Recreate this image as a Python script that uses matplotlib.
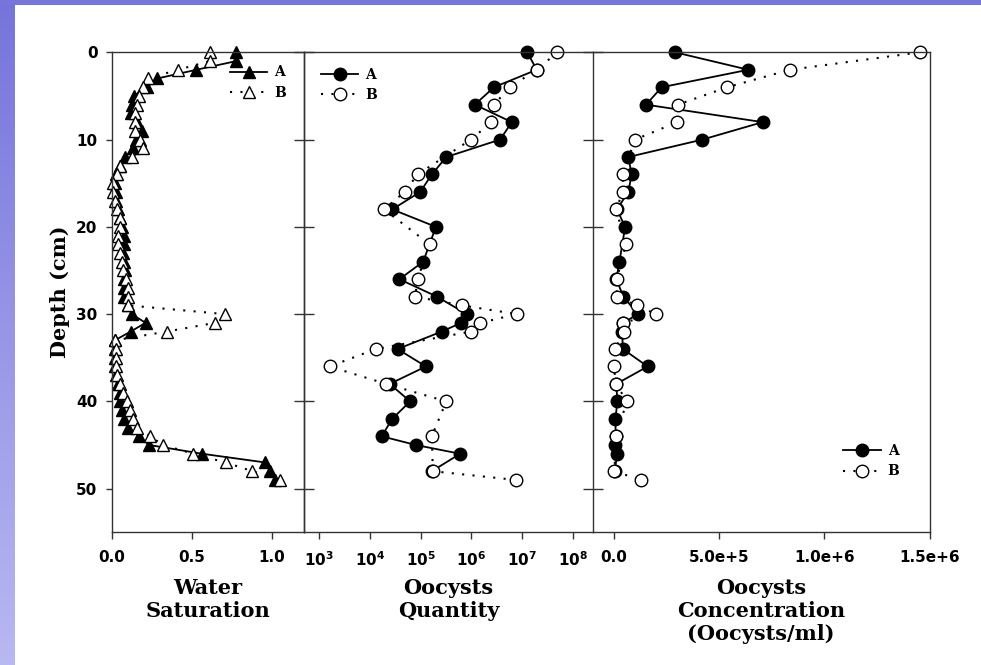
import numpy as np
import matplotlib.pyplot as plt
from matplotlib.patches import Rectangle

# water saturation, sampled every cm
sat_depth = list(range(50))
sat_a = [0.78, 0.78, 0.53, 0.285, 0.22, 0.14, 0.13, 0.12, 0.16, 0.19,
         0.15, 0.135, 0.085, 0.05, 0.03, 0.02, 0.025, 0.03, 0.04, 0.055,
         0.065, 0.08, 0.08, 0.07, 0.075, 0.085, 0.08, 0.075, 0.08, 0.10,
         0.125, 0.212, 0.118, 0.02, 0.02, 0.02, 0.02, 0.03, 0.04, 0.055,
         0.055, 0.065, 0.08, 0.105, 0.17, 0.235, 0.565, 0.96, 0.99, 1.02]
sat_b = [0.614, 0.614, 0.416, 0.225, 0.198, 0.173, 0.156, 0.146, 0.146, 0.146,
         0.177, 0.198, 0.129, 0.052, 0.035, 0.01, 0.01, 0.02, 0.031, 0.052,
         0.052, 0.042, 0.042, 0.052, 0.063, 0.073, 0.09, 0.104, 0.104, 0.104,
         0.708, 0.646, 0.344, 0.021, 0.026, 0.025, 0.026, 0.031, 0.052, 0.073,
         0.094, 0.114, 0.135, 0.156, 0.239, 0.323, 0.51, 0.712, 0.88, 1.05]

# oocyst samples
depth_a = [0, 2, 4, 6, 8, 10, 12, 14, 16, 18, 20, 24, 26, 28, 30, 31, 32,
           34, 36, 38, 40, 42, 44, 45, 46, 48]
depth_b = [0, 2, 4, 6, 8, 10, 14, 16, 18, 22, 26, 28, 29, 30, 31, 32, 34,
           36, 38, 40, 44, 48, 49]
qty_a = [1.27e7, 1.95e7, 2.8e6, 1.17e6, 6.3e6, 3.7e6, 3.2e5, 1.66e5, 9.8e4,
         2.75e4, 2.0e5, 1.12e5, 3.8e4, 2.1e5, 8.1e5, 6.3e5, 2.6e5, 3.5e4,
         1.27e5, 2.45e4, 6.2e4, 2.75e4, 1.7e4, 8.1e4, 6.0e5, 1.66e5]
qty_b = [5.0e7, 1.95e7, 5.75e6, 2.8e6, 2.5e6, 9.8e5, 8.7e4, 4.8e4, 1.9e4,
         1.5e5, 8.7e4, 7.8e4, 6.5e5, 7.9e6, 1.5e6, 9.8e5, 1.3e4, 1.6e3,
         2.1e4, 3.2e5, 1.66e5, 1.74e5, 7.6e6]
conc_a = [2.91e5, 6.39e5, 2.28e5, 1.53e5, 7.07e5, 4.21e5, 6.9e4, 8.5e4, 6.9e4,
          1.5e4, 5.4e4, 2.7e4, 1.2e4, 4.6e4, 1.14e5, 4.5e4, 4.0e4, 4.3e4,
          1.61e5, 1.2e4, 1.7e4, 8e3, 9e3, 7e3, 1.7e4, 4e3]
conc_b = [1.454e6, 8.37e5, 5.39e5, 3.04e5, 3.02e5, 1.01e5, 4.3e4, 4.3e4, 1.1e4,
          5.8e4, 1.4e4, 1.4e4, 1.12e5, 1.99e5, 4.3e4, 5.0e4, 6e3, 0.0,
          1.1e4, 6.2e4, 1.1e4, 3e3, 1.28e5]

depth_ticks = [0, 10, 20, 30, 40, 50]
sat_ticks = [0.0, 0.5, 1.0]
qty_ticks = [1e3, 1e4, 1e5, 1e6, 1e7, 1e8]
conc_ticks = [0.0, 5e5, 1e6, 1.5e6]
conc_labels = ["0.0", "5.0e+5", "1.0e+6", "1.5e+6"]

SERIF = "DejaVu Serif"
SANS = "DejaVu Sans"
SPINE = "#333333"

fig = plt.figure(figsize=(9.81, 6.65), dpi=100)

# slide-like purple border
bg = fig.add_axes([0, 0, 1, 1], zorder=-10)
bg.set_xlim(0, 981)
bg.set_ylim(665, 0)
bg.axis("off")
grad = np.linspace(0, 1, 200)[:, None, None]
c0 = np.array([0x76, 0x74, 0xdb]) / 255
c1 = np.array([0xb8, 0xb8, 0xf2]) / 255
bg.imshow(c0 + (c1 - c0) * grad, extent=(0, 15, 665, 0), aspect="auto")
bg.add_patch(Rectangle((0, 0), 981, 5, color="#7876dc", lw=0))

W, H = 981, 665
top, bot = 52.3, 532.3
def px_axes(x0, x1):
    return fig.add_axes([x0 / W, 1 - bot / H, (x1 - x0) / W, (bot - top) / H])

ax1 = px_axes(111.7, 304.0)
ax2 = px_axes(304.0, 592.7)
ax3 = px_axes(592.7, 929.7)

kw_a = dict(color="black", lw=1.3, ls="-", mfc="black", mec="black", clip_on=False)
kw_b = dict(color="black", lw=1.5, ls=(0, (1, 4)), mfc="white", mec="black",
            mew=1.0, clip_on=False)

ax1.plot(sat_a, sat_depth, marker="^", ms=9, label="A", **kw_a)
ax1.plot(sat_b, sat_depth, marker="^", ms=9, label="B", **kw_b)

ax2.plot(qty_a, depth_a, marker="o", ms=9, label="A", **kw_a)
ax2.plot(qty_b, depth_b, marker="o", ms=9, label="B", **kw_b)
ax2.set_xscale("log")

ax3.plot(conc_a, depth_a, marker="o", ms=9, label="A", **kw_a)
ax3.plot(conc_b, depth_b, marker="o", ms=9, label="B", **kw_b)

ax1.set_xlim(0, 1.202)
ax2.set_xlim(10 ** 2.698, 10 ** 8.395)
ax3.set_xlim(-1.0e5, 1.5e6)

for ax in (ax1, ax2, ax3):
    ax.set_ylim(55, 0)
    ax.set_yticks(depth_ticks)
    for sp in ax.spines.values():
        sp.set_color(SPINE)
        sp.set_linewidth(1.0)
    ax.tick_params(axis="x", direction="out", length=5, width=1, color=SPINE,
                   pad=8, labelsize=11)
    ax.patch.set_alpha(0)

ax1.tick_params(axis="y", direction="out", length=4.3, width=1, color=SPINE,
                pad=6, labelsize=11)
ax2.spines["right"].set_visible(False)
for ax in (ax2, ax3):
    ax.tick_params(axis="y", direction="inout", length=14.4, width=1,
                   color=SPINE, labelleft=False)

ax1.set_xticks(sat_ticks)
ax1.set_xticklabels([f"{t:.1f}" for t in sat_ticks])
ax2.set_xticks(qty_ticks)
ax2.set_xticklabels([rf"$\mathbf{{10^{{{int(np.log10(t))}}}}}$" for t in qty_ticks])
ax2.minorticks_off()
ax3.set_xticks(conc_ticks)
ax3.set_xticklabels(conc_labels)

for ax in (ax1, ax2, ax3):
    for lab in ax.get_xticklabels() + ax.get_yticklabels():
        lab.set_fontfamily(SANS)
        lab.set_fontweight("bold")

lab_kw = dict(fontsize=15, fontweight="bold", family=SERIF, linespacing=1.2)
ax1.set_xlabel("Water\nSaturation", **lab_kw)
ax2.set_xlabel("Oocysts\nQuantity", **lab_kw)
ax3.set_xlabel("Oocysts\nConcentration\n(Oocysts/ml)", **lab_kw)
for ax in (ax1, ax2, ax3):
    ax.xaxis.set_label_coords(0.5, -0.095)
fig.text(60 / W, 1 - 292 / H, "Depth (cm)", rotation=90, ha="center",
         va="center", **lab_kw)

leg_kw = dict(frameon=False, handlelength=2.7, labelspacing=0.45,
              handletextpad=0.5, borderaxespad=0.2,
              prop={"family": SERIF, "weight": "bold", "size": 10})
ax1.legend(loc="upper right", bbox_to_anchor=(0.95, 0.99), **leg_kw)
ax2.legend(loc="upper left", bbox_to_anchor=(0.03, 0.985), **leg_kw)
ax3.legend(loc="lower right", bbox_to_anchor=(0.935, 0.095), **leg_kw)

fig.savefig("out.png", dpi=100)
